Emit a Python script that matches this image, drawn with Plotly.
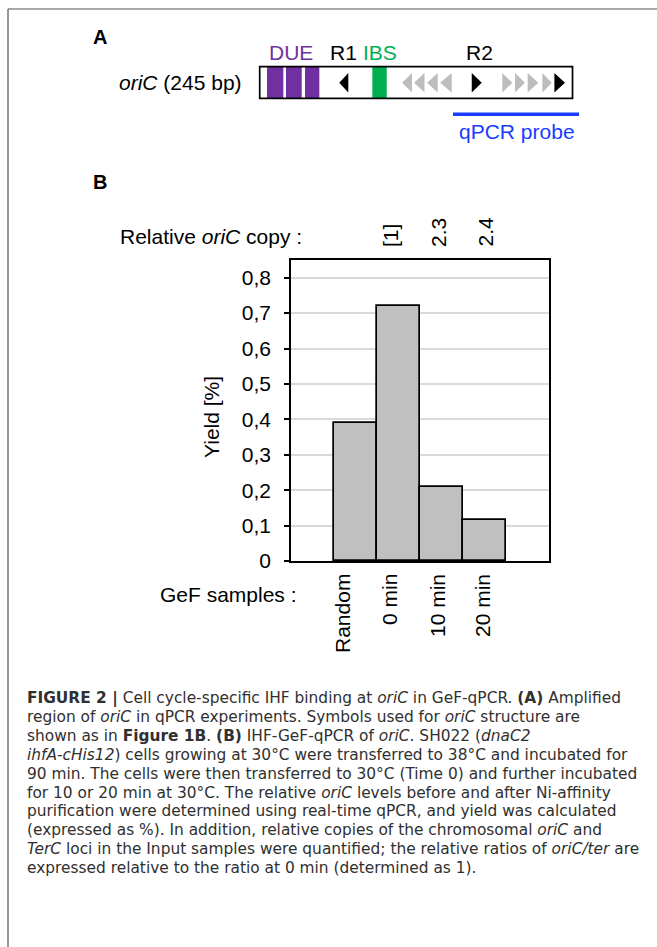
import plotly.graph_objects as go

W, H = 657, 947

# ---------------- data: panel B ----------------
samples = ["Random", "0 min", "10 min", "20 min"]
yield_pct = [0.39, 0.72, 0.21, 0.115]
copy_labels = ["", "[1]", "2.3", "2.4"]
y_tickvals = [0, 0.1, 0.2, 0.3, 0.4, 0.5, 0.6, 0.7, 0.8]
y_ticktext = ["0", "0,1", "0,2", "0,3", "0,4", "0,5", "0,6", "0,7", "0,8"]

# ---------------- data: panel A (positions in bp along oriC) ----------------
oric_length = 245
due_start = [5.7, 20.6, 35.5]
due_end = [18.5, 32.9, 46.7]
ibs_start, ibs_end = 88.2, 99.5
motif_start = [62.3, 111.5, 120.9, 131.1, 141.3, 166.1, 190.0, 200.0, 209.9, 221.4, 230.8]
motif_end = [69.4, 119.3, 129.1, 139.4, 150.4, 173.9, 197.9, 207.8, 218.2, 228.7, 239.1]
motif_dir = ["L", "L", "L", "L", "L", "R", "R", "R", "R", "R", "R"]
motif_color = ["black", "#bdbdbd", "#bdbdbd", "#bdbdbd", "#bdbdbd", "black",
               "#bdbdbd", "#bdbdbd", "#bdbdbd", "#bdbdbd", "black"]
probe_start, probe_end = 151.4, 250.1
feature_labels = ["DUE", "R1", "IBS", "R2"]
feature_pos = [24.3, 66.0, 94.0, 172.5]
feature_colors = ["#7030a0", "black", "#00b050", "black"]

caption_lines = [
    "<b>FIGURE 2 |</b> Cell cycle-specific IHF binding at <i>oriC</i> in GeF-qPCR. <b>(A)</b> Amplified",
    "region of <i>oriC</i> in qPCR experiments. Symbols used for <i>oriC</i> structure are",
    "shown as in <b>Figure 1B</b>. <b>(B)</b> IHF-GeF-qPCR of <i>oriC</i>. SH022 (<i>dnaC2</i>",
    "<i>ihfA-cHis12</i>) cells growing at 30°C were transferred to 38°C and incubated for",
    "90 min. The cells were then transferred to 30°C (Time 0) and further incubated",
    "for 10 or 20 min at 30°C. The relative <i>oriC</i> levels before and after Ni-affinity",
    "purification were determined using real-time qPCR, and yield was calculated",
    "(expressed as %). In addition, relative copies of the chromosomal <i>oriC</i> and",
    "<i>TerC</i> loci in the Input samples were quantified; the relative ratios of <i>oriC/ter</i> are",
    "expressed relative to the ratio at 0 min (determined as 1).",
]

FONT = "Liberation Sans, Arial, Helvetica, sans-serif"
CAP_FONT = "DejaVu Sans, Liberation Sans, Arial, sans-serif"
PURPLE = "#7030a0"
GREEN = "#00b050"
BLUE = "#1a3cff"
FS = 21


def px(x):
    return x / W


def py(y):
    return 1 - y / H


fig = go.Figure()

fig.add_trace(go.Bar(
    x=samples, y=yield_pct,
    marker=dict(color="#c0c0c0", line=dict(color="black", width=1.7)),
    width=1.0, showlegend=False, hoverinfo="skip",
))

# invisible trace to establish panel A axes
fig.add_trace(go.Scatter(x=[0, oric_length], y=[0, 1], xaxis="x2", yaxis="y2",
                         mode="markers", marker=dict(opacity=0), showlegend=False,
                         hoverinfo="skip"))

fig.update_layout(
    template="none",
    width=W, height=H, autosize=False,
    margin=dict(l=0, r=0, t=0, b=0, pad=0, autoexpand=False),
    plot_bgcolor="white", paper_bgcolor="white",
    bargap=0,
    font=dict(family=FONT, size=FS, color="black"),
    xaxis=dict(
        domain=[px(291), px(549)], type="category", range=[-1.5, 4.5],
        showticklabels=False, ticks="", showgrid=False, zeroline=False,
        showline=True, mirror=True, linecolor="black", linewidth=1.7,
        automargin=False,
    ),
    yaxis=dict(
        domain=[py(561), py(260)], range=[0, 0.850],
        tickvals=y_tickvals, ticktext=y_ticktext,
        ticks="outside", ticklen=5, tickwidth=1.5, tickcolor="black",
        ticklabelstandoff=9,
        showgrid=True, gridcolor="#dadada", gridwidth=1.5, zeroline=False,
        showline=True, mirror=True, linecolor="black", linewidth=1.7,
        tickfont=dict(size=FS), automargin=False,
    ),
    xaxis2=dict(domain=[px(250), px(590)], range=[-7.6, 258.7], visible=False,
                anchor="y2", automargin=False),
    yaxis2=dict(domain=[py(145), py(40)], range=[-1.478, 1.845], visible=False,
                anchor="x2", automargin=False),
)

shapes = []
# panel A: DUE blocks
for s, e in zip(due_start, due_end):
    shapes.append(dict(type="rect", xref="x2", yref="y2", x0=s, x1=e, y0=0, y1=1,
                       fillcolor=PURPLE, line=dict(width=0)))
shapes.append(dict(type="rect", xref="x2", yref="y2", x0=ibs_start, x1=ibs_end, y0=0, y1=1,
                   fillcolor=GREEN, line=dict(width=0)))
for s, e, d, c in zip(motif_start, motif_end, motif_dir, motif_color):
    if d == "R":
        path = f"M {s},0.18 L {e},0.49 L {s},0.80 Z"
    else:
        path = f"M {e},0.18 L {s},0.49 L {e},0.80 Z"
    shapes.append(dict(type="path", xref="x2", yref="y2", path=path,
                       fillcolor=c, line=dict(width=0)))
shapes.append(dict(type="rect", xref="x2", yref="y2", x0=0, x1=oric_length, y0=0, y1=1,
                   line=dict(color="black", width=1.7)))
shapes.append(dict(type="line", xref="x2", yref="y2", x0=probe_start, x1=probe_end,
                   y0=-0.506, y1=-0.506, line=dict(color=BLUE, width=3.5)))

# outer frame (left and top)
shapes.append(dict(type="line", xref="paper", yref="paper", x0=px(8), x1=px(8),
                   y0=py(9), y1=py(H + 5), line=dict(color="#555555", width=1.2)))
shapes.append(dict(type="line", xref="paper", yref="paper", x0=px(8), x1=px(W + 5),
                   y0=py(9), y1=py(9), line=dict(color="#555555", width=1.2)))

fig.update_layout(shapes=shapes)

ann = []


def add(**kw):
    kw.setdefault("showarrow", False)
    kw.setdefault("xanchor", "center")
    kw.setdefault("yanchor", "middle")
    ann.append(kw)


# panel letters
add(text="<b>A</b>", x=px(99.5), y=py(37), xref="paper", yref="paper", font=dict(size=20))
add(text="<b>B</b>", x=px(99.5), y=py(182), xref="paper", yref="paper", font=dict(size=20))
# panel A labels
add(text="<i>oriC</i> (245 bp)", x=px(244), y=py(82), xref="paper", yref="paper",
    xanchor="right", font=dict(size=FS))
for lab, pos, col in zip(feature_labels, feature_pos, feature_colors):
    add(text=lab, x=pos, y=1.434, xref="x2", yref="y2", font=dict(size=FS, color=col))
add(text="qPCR probe", x=(probe_start + probe_end) / 2 + 0.5, y=-1.06,
    xref="x2", yref="y2", font=dict(size=FS, color=BLUE))

# panel B labels
add(text="Relative <i>oriC</i> copy :", x=px(304), y=py(237), xref="paper",
    yref="paper", xanchor="right", font=dict(size=FS))
add(text="GeF samples :", x=px(299), y=py(594), xref="paper",
    yref="paper", xanchor="right", font=dict(size=FS))
add(text="Yield [%]", x=px(212), y=py(417), xref="paper", yref="paper",
    textangle=-90, font=dict(size=FS))
bottom_shift = [-13, -9, -4, -2]
for s, sh in zip(samples, bottom_shift):
    add(text=s, x=s, y=py(572), xref="x", yref="paper", textangle=-90,
        yanchor="top", xshift=sh, font=dict(size=FS))
top_shift = [0, -8, -3, 0]
for s, lab, sh in zip(samples, copy_labels, top_shift):
    if lab:
        add(text=lab, x=s, y=py(249), xref="x", yref="paper", textangle=-90,
            yanchor="bottom", xshift=sh, font=dict(size=FS))

# caption
for i, line in enumerate(caption_lines):
    add(text=line, x=px(25), y=py(698 + i * 18.9), xref="paper", yref="paper",
        xanchor="left", align="left",
        font=dict(family=CAP_FONT, size=15.4, color="#303030"))

fig.update_layout(annotations=ann)

fig.write_html(
    "out.html",
    config={"displayModeBar": False},
    post_script="document.body.style.margin='0';document.body.style.padding='0';"
                "document.body.style.overflow='hidden';",
)
